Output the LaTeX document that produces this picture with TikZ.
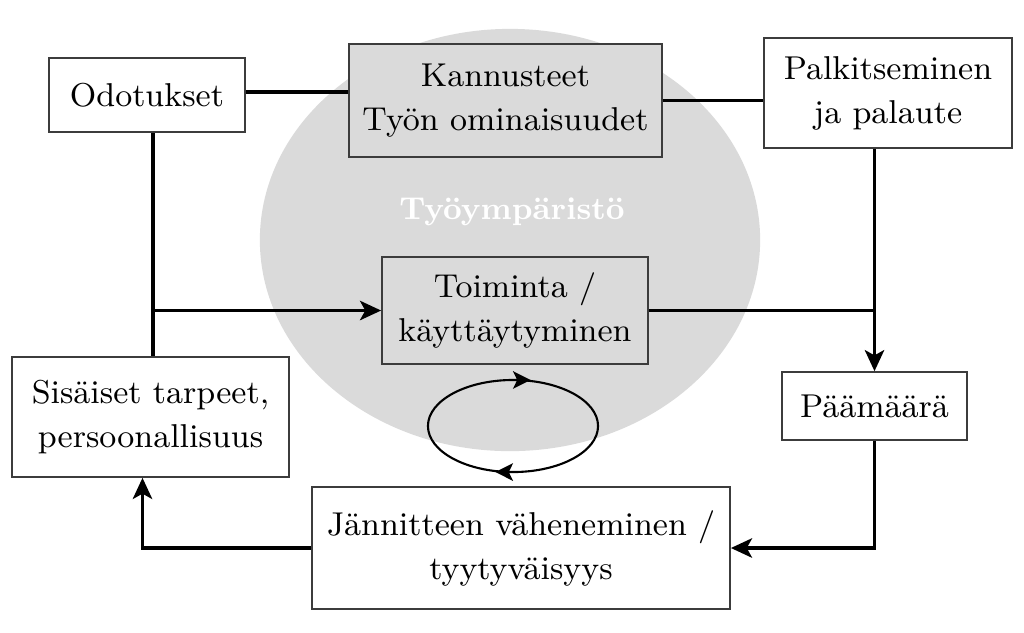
\documentclass[tikz,border=0pt]{standalone}
\usepackage{xcolor}
\definecolor{envgray}{RGB}{218,218,218}
\definecolor{boxline}{RGB}{60,60,60}
\usetikzlibrary{arrows.meta,positioning,decorations.markings}
\tikzset{
  box/.style={draw=boxline, line width=0.45pt, align=center, inner sep=2pt, font=\fontsize{9.4}{12.5}\selectfont},
  graybox/.style={box, fill=envgray},
  link/.style={line width=1pt},
  flow/.style={link, -{Stealth[length=6pt, width=5.5pt, inset=1.5pt]}},
  cycleline/.style={line width=0.6pt, postaction={decorate},
    decoration={markings,
      mark=at position 0.25 with {\arrow{Stealth[length=5pt, width=5pt, inset=1.2pt, reversed]}},
      mark=at position 0.75 with {\arrow{Stealth[length=5pt, width=5pt, inset=1.2pt, reversed]}}}},
}
\begin{document}
\begin{tikzpicture}[x=0.01cm, y=-0.01cm]
  \useasboundingbox (0,0) rectangle (1024,632);

  %% Work environment
  \fill[envgray] (510,240) ellipse [x radius=2.5cm, y radius=2.11cm];
  \node[font=\fontsize{9}{12}\selectfont\bfseries, text=white] (env) at (512,212) {Työympäristö};

  %% Boxes
  \node[box, minimum width=1.96cm, minimum height=0.74cm] (odot) at (147,95) {Odotukset};
  \node[graybox, minimum width=3.13cm, minimum height=1.13cm] (kann) at (505.5,100.5) {Kannusteet\\Työn ominaisuudet};
  \node[box, minimum width=2.48cm, minimum height=1.10cm] (palk) at (888,93) {Palkitseminen\\ja palaute};
  \node[graybox, minimum width=2.66cm, minimum height=1.07cm] (toim) at (515,310.5) {Toiminta /\\käyttäytyminen};
  \node[box, minimum width=2.77cm, minimum height=1.20cm] (sis) at (150.5,417) {Sisäiset tarpeet,\\persoonallisuus};
  \node[box, minimum width=1.85cm, minimum height=0.68cm] (paam) at (874.5,406) {Päämäärä};
  \node[box, minimum width=4.18cm, minimum height=1.22cm] (jann) at (521,548) {Jännitteen väheneminen /\\tyytyväisyys};

  %% Cycle below the action
  \coordinate (loopc) at (513,426);
  \draw[cycleline] (loopc) ellipse [x radius=0.85cm, y radius=0.46cm];

  %% Connectors
  \draw[link] ([yshift=0.03cm]odot.east) -- ([yshift=0.03cm]odot.east -| kann.west);
  \draw[link] (kann.east) -- (kann.east -| palk.west);
  \draw[link] ([xshift=0.06cm]odot.south) -- ([xshift=0.06cm]odot.south |- sis.north);
  \draw[flow] ([xshift=0.06cm]odot.south |- toim.west) -- (toim.west);
  \draw[link] (toim.east) -- (toim.east -| paam.north);
  \draw[flow] (paam.north |- palk.south) -- (paam.north);
  \draw[flow] (paam.south) -- (paam.south |- jann.east) -- (jann.east);
  \draw[flow] (jann.west) -- ([xshift=-0.08cm]jann.west -| sis.south) -- ([xshift=-0.08cm]sis.south);
\end{tikzpicture}
\end{document}
